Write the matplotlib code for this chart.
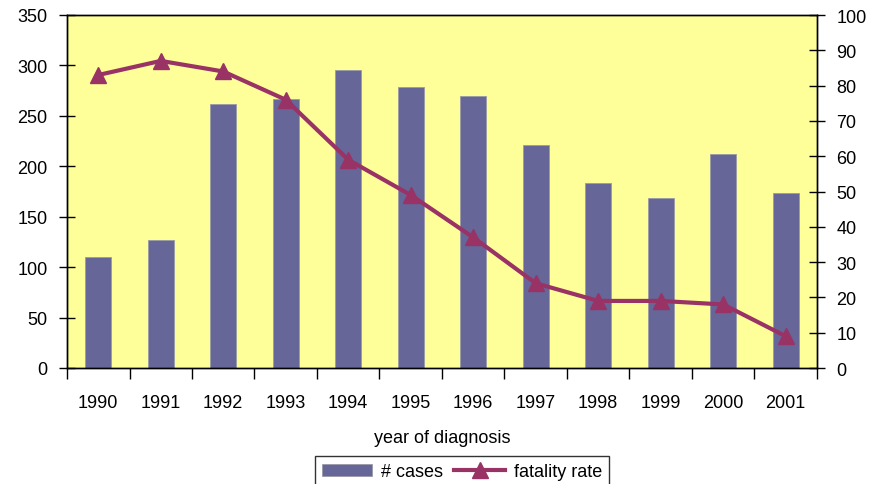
import numpy as np
import matplotlib
matplotlib.use("Agg")
import matplotlib.pyplot as plt

# data
years = ["1990", "1991", "1992", "1993", "1994", "1995",
         "1996", "1997", "1998", "1999", "2000", "2001"]
cases = [110, 127, 262, 267, 295, 279, 270, 221, 183, 169, 212, 174]
fatality = [83, 87, 84, 76, 59, 49, 37, 24, 19, 19, 18, 9]

plt.rcParams['font.family'] = ['Liberation Sans', 'DejaVu Sans']
fs = 13

fig = plt.figure(figsize=(8.7, 4.85), dpi=100)
ax = fig.add_axes([67/870, 1 - 369/485, 750/870, 353/485])
ax.set_facecolor('#FFFF99')

x = np.arange(len(years))
bars = ax.bar(x, cases, width=0.42, color='#666699', edgecolor='#9a9aa8',
              linewidth=0.6, label='# cases', zorder=2)
ax.set_xlim(-0.5, len(years) - 0.5)
ax.set_ylim(0, 350)
ax.set_yticks(np.arange(0, 351, 50))

ax2 = ax.twinx()
line, = ax2.plot(x, fatality, color='#993366', lw=3, marker='^',
                 markersize=12, label='fatality rate', zorder=3)
ax2.set_ylim(0, 100)
ax2.set_yticks(np.arange(0, 101, 10))

# ticks between categories on the x axis
ax.set_xticks(np.arange(-0.5, len(years)), minor=False)
ax.set_xticklabels([])
ax.set_xticks(x, minor=True)
ax.set_xticklabels(years, minor=True, fontsize=fs)
ax.tick_params(axis='x', which='major', direction='out', length=8, width=1)
ax.tick_params(axis='x', which='minor', length=0, pad=19)
ax.tick_params(axis='y', direction='inout', length=12, width=1,
               labelsize=fs, pad=8)
ax2.tick_params(axis='y', direction='inout', length=12, width=1,
                labelsize=fs, pad=8)

for a in (ax, ax2):
    for s in a.spines.values():
        s.set_color('black')
        s.set_linewidth(1)

ax.set_xlabel('year of diagnosis', fontsize=fs, labelpad=13)

leg = fig.legend([bars, line], ['# cases', 'fatality rate'], ncol=2,
                 loc='upper center', bbox_to_anchor=(462/870, 1 - 457/485),
                 frameon=True, fancybox=False, edgecolor='black',
                 fontsize=fs, handlelength=2.8, columnspacing=0.6,
                 handletextpad=0.5, borderaxespad=0)
leg.get_frame().set_linewidth(1)

fig.savefig('out.png', dpi=100)
